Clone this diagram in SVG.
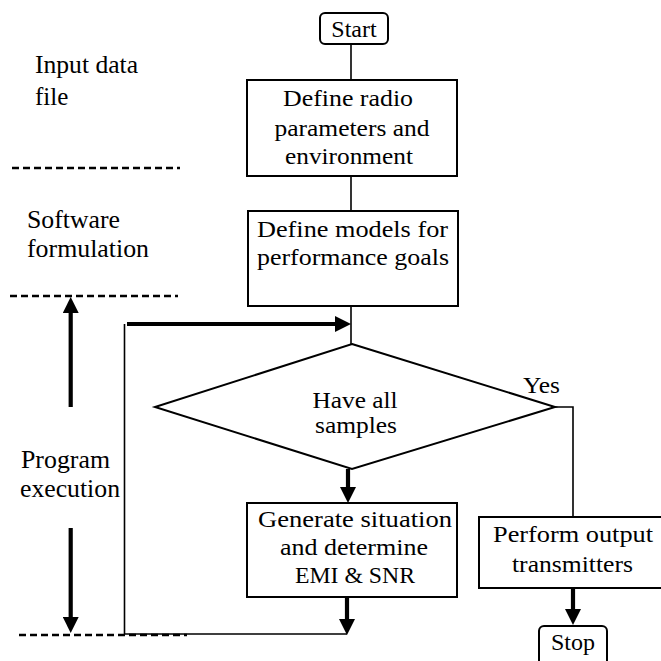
<svg xmlns="http://www.w3.org/2000/svg" width="661" height="661" viewBox="0 0 661 661" font-family="'Liberation Serif', 'Times New Roman', 'DejaVu Serif', serif">
<style>
text{font-family:'Liberation Serif','Times New Roman','DejaVu Serif',serif;fill:#000}
.bt{font-size:24px;text-anchor:middle}
.lb{font-size:25px}
.box{fill:#fff;stroke:#000;stroke-width:2}
.thin{fill:none;stroke:#000;stroke-width:1.6}
.thick{fill:none;stroke:#000;stroke-width:4.2}
.dash{fill:none;stroke:#000;stroke-width:2.6;stroke-dasharray:7 4}
</style>
<defs>
<marker id="ah" markerUnits="userSpaceOnUse" markerWidth="16" markerHeight="16" viewBox="0 0 16 16" refX="8" refY="8" orient="auto">
<path d="M0,0 L16,8 L0,16 z" fill="#000"/>
</marker>
</defs>
<rect width="661" height="661" fill="#fff"/>

<g id="labels">
<text class="lb" x="35" y="73" textLength="103" lengthAdjust="spacingAndGlyphs">Input data</text>
<text class="lb" x="35" y="105">file</text>
<text class="lb" x="27" y="228" textLength="93" lengthAdjust="spacingAndGlyphs">Software</text>
<text class="lb" x="27" y="257" textLength="122" lengthAdjust="spacingAndGlyphs">formulation</text>
<text class="lb" x="21" y="468" textLength="89" lengthAdjust="spacingAndGlyphs">Program</text>
<text class="lb" x="20" y="497" textLength="100" lengthAdjust="spacingAndGlyphs">execution</text>
</g>

<g id="separators">
<line class="dash" x1="12" y1="168" x2="180" y2="168"/>
<line class="dash" x1="10" y1="296" x2="178" y2="296"/>
<line class="dash" x1="19" y1="635" x2="187" y2="635"/>
</g>

<g id="connectors">
<path class="thin" d="M351,44 V80"/>
<path class="thin" d="M351,176 V211"/>
<path class="thin" d="M351,306 V344"/>
<path class="thin" d="M124.5,324 V634 H347"/>
<path class="thin" d="M555,407 H573 V517"/>
<path class="thick" d="M70.7,407 V305" marker-end="url(#ah)"/>
<path class="thick" d="M70.7,528 V625" marker-end="url(#ah)"/>
<path class="thick" d="M127,324 H343" marker-end="url(#ah)"/>
<path class="thick" d="M348,469 V495" marker-end="url(#ah)"/>
<path class="thick" d="M347,597 V627" marker-end="url(#ah)"/>
<path class="thick" d="M573,588 V617" marker-end="url(#ah)"/>
</g>

<g id="start">
<rect class="box" x="320" y="13" width="68" height="31" rx="5"/>
<text class="bt" x="354" y="37" font-size="22">Start</text>
</g>

<g id="define-radio">
<rect class="box" x="247" y="80" width="210" height="96"/>
<text class="bt" x="348" y="106" textLength="130" lengthAdjust="spacingAndGlyphs">Define radio</text>
<text class="bt" x="352" y="136" textLength="155" lengthAdjust="spacingAndGlyphs">parameters and</text>
<text class="bt" x="349" y="164" textLength="128" lengthAdjust="spacingAndGlyphs">environment</text>
</g>

<g id="define-models">
<rect class="box" x="248" y="211" width="210" height="95"/>
<text class="bt" x="352.5" y="237" textLength="191" lengthAdjust="spacingAndGlyphs">Define models for</text>
<text class="bt" x="353" y="265" textLength="192" lengthAdjust="spacingAndGlyphs">performance goals</text>
</g>

<g id="decision">
<polygon class="box" points="352,344 555,407 352,469 155,407"/>
<text class="bt" x="355" y="408" font-size="26" textLength="85" lengthAdjust="spacingAndGlyphs">Have all</text>
<text class="bt" x="356" y="433" font-size="26" textLength="82" lengthAdjust="spacingAndGlyphs">samples</text>
<text x="523" y="393" font-size="24" textLength="37" lengthAdjust="spacingAndGlyphs">Yes</text>
</g>

<g id="generate">
<rect class="box" x="247" y="503" width="210" height="94"/>
<text class="bt" x="355" y="527" textLength="194" lengthAdjust="spacingAndGlyphs">Generate situation</text>
<text class="bt" x="354" y="555" textLength="148" lengthAdjust="spacingAndGlyphs">and determine</text>
<text class="bt" x="355" y="583" textLength="120" lengthAdjust="spacingAndGlyphs">EMI &amp; SNR</text>
</g>

<g id="perform">
<rect class="box" x="479" y="517" width="190" height="71"/>
<text class="bt" x="573" y="542" textLength="160" lengthAdjust="spacingAndGlyphs">Perform output</text>
<text class="bt" x="572.5" y="572" textLength="121" lengthAdjust="spacingAndGlyphs">transmitters</text>
</g>

<g id="stop">
<rect class="box" x="539" y="626" width="68" height="50" rx="5"/>
<text class="bt" x="573" y="650" font-size="22">Stop</text>
</g>
</svg>
